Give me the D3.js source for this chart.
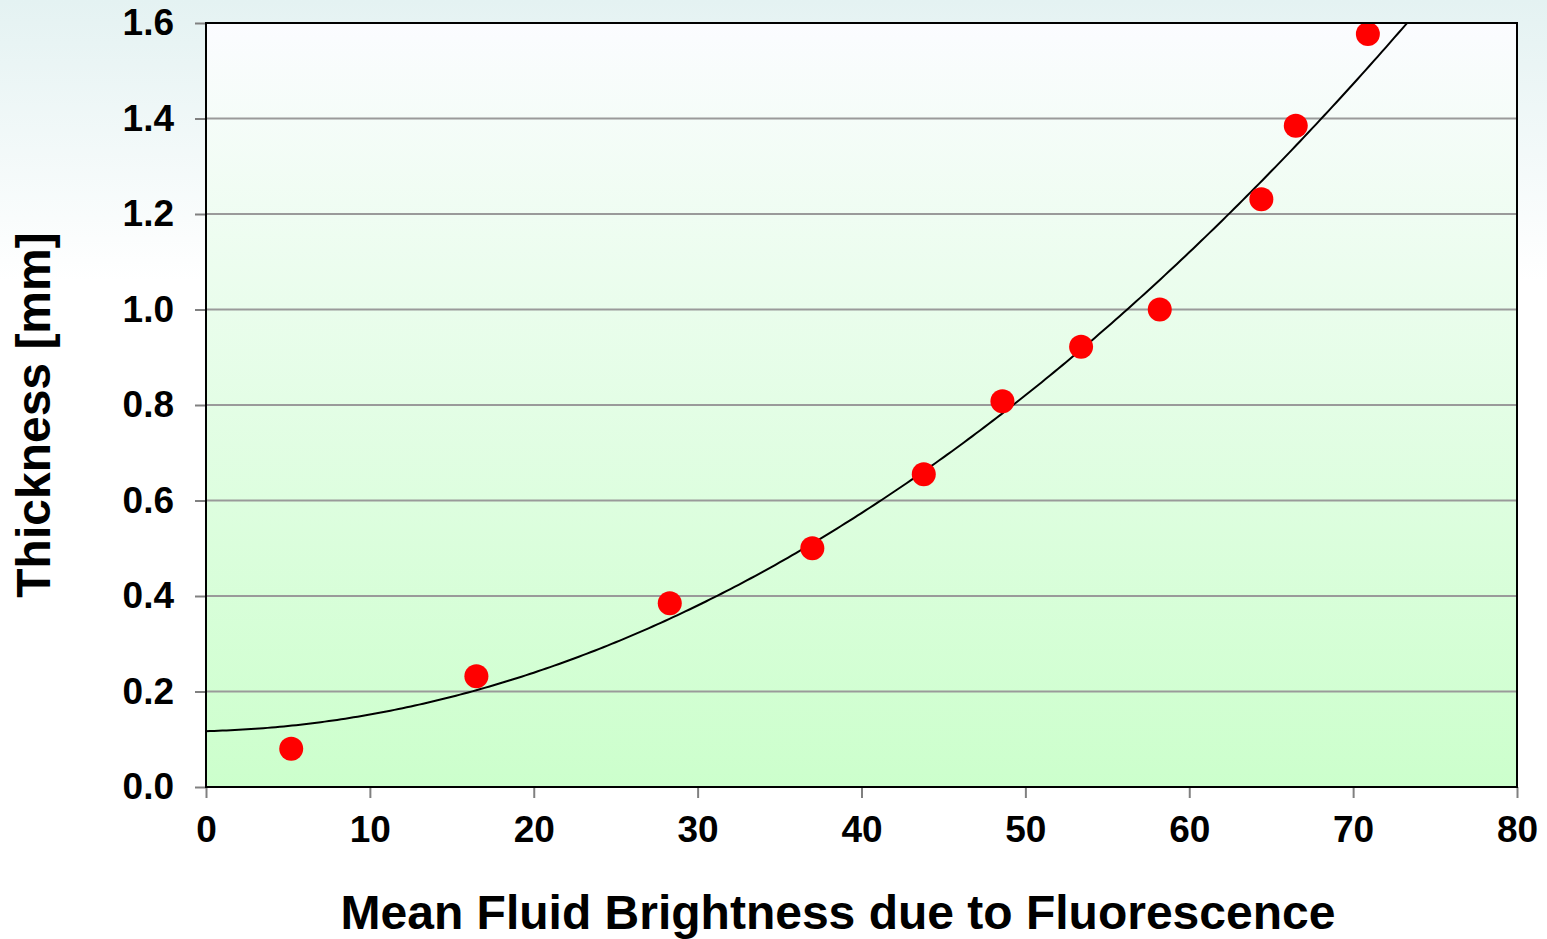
<!DOCTYPE html>
<html>
<head>
<meta charset="utf-8">
<script src="https://cdn.jsdelivr.net/npm/d3@7"></script>
<style>
  html, body { margin: 0; padding: 0; background: #fff; }
  svg { display: block; }
  text { font-family: "Liberation Sans", Arial, sans-serif; font-weight: bold; fill: #000; }
</style>
</head>
<body>
<svg id="chart" width="1547" height="939"></svg>
<script>
// Measured samples: mean fluid brightness vs. film thickness
const brightness = [5.2, 16.5, 28.3, 37.0, 43.8, 48.6, 53.4, 58.2, 64.4, 66.5, 70.9];
const thickness  = [0.08, 0.232, 0.385, 0.50, 0.655, 0.808, 0.922, 1.0, 1.231, 1.385, 1.577];

// Second-order polynomial trendline: t = a0 + a1*b + a2*b^2
const trendCoef = [0.117, 0.000825, 0.0002648];

const xTicks = [0, 10, 20, 30, 40, 50, 60, 70, 80];
const yTicks = [0.0, 0.2, 0.4, 0.6, 0.8, 1.0, 1.2, 1.4, 1.6];

const xTitle = "Mean Fluid Brightness due to Fluorescence";
const yTitle = "Thickness [mm]";

const W = 1547, H = 939;
const margin = { left: 206, top: 23, right: 30, bottom: 152 };
const pw = W - margin.left - margin.right;
const ph = H - margin.top - margin.bottom;

const svg = d3.select("#chart");
const defs = svg.append("defs");

const pageGrad = defs.append("linearGradient").attr("id", "pageBg")
  .attr("x1", 0).attr("y1", 0).attr("x2", 0).attr("y2", 1);
pageGrad.append("stop").attr("offset", "0%").attr("stop-color", "#e4f2f2");
pageGrad.append("stop").attr("offset", "30%").attr("stop-color", "#ffffff");
pageGrad.append("stop").attr("offset", "100%").attr("stop-color", "#ffffff");

const plotGrad = defs.append("linearGradient").attr("id", "plotBg")
  .attr("x1", 0).attr("y1", 0).attr("x2", 0).attr("y2", 1);
plotGrad.append("stop").attr("offset", "0%").attr("stop-color", "#fbfcff");
plotGrad.append("stop").attr("offset", "100%").attr("stop-color", "#ccffcc");

defs.append("clipPath").attr("id", "plotClip")
  .append("rect").attr("width", pw).attr("height", ph);

svg.append("rect").attr("width", W).attr("height", H).attr("fill", "url(#pageBg)");

const x = d3.scaleLinear().domain([0, 80]).range([0, pw]);
const y = d3.scaleLinear().domain([0, 1.6]).range([ph, 0]);

const g = svg.append("g").attr("transform", `translate(${margin.left},${margin.top})`);

g.append("rect").attr("width", pw).attr("height", ph).attr("fill", "url(#plotBg)");

// horizontal gridlines
g.append("g").selectAll("line").data(yTicks.slice(1, -1)).join("line")
  .attr("x1", 0).attr("x2", pw)
  .attr("y1", d => y(d)).attr("y2", d => y(d))
  .attr("stroke", "#9a9a9a").attr("stroke-width", 2);

// axes
const yAxis = g.append("g")
  .call(d3.axisLeft(y).tickValues(yTicks).tickFormat(d3.format(".1f")).tickSize(11).tickPadding(21));
const xAxis = g.append("g").attr("transform", `translate(0,${ph})`)
  .call(d3.axisBottom(x).tickValues(xTicks).tickFormat(d3.format("d")).tickSize(11).tickPadding(18));
[yAxis, xAxis].forEach(a => {
  a.select(".domain").remove();
  a.selectAll(".tick line").attr("stroke", "#808080").attr("stroke-width", 2);
  a.selectAll(".tick text").style("font-size", "37px").attr("font-family", null).attr("fill", "#000");
});

const curve = d3.range(0, 80.01, 0.25)
  .map(v => [v, trendCoef[0] + trendCoef[1] * v + trendCoef[2] * v * v]);

g.append("path").datum(curve)
  .attr("clip-path", "url(#plotClip)")
  .attr("fill", "none").attr("stroke", "#000").attr("stroke-width", 2)
  .attr("d", d3.line().x(d => x(d[0])).y(d => y(d[1])));

// data points
g.append("g").selectAll("circle").data(brightness.map((b, i) => [b, thickness[i]])).join("circle")
  .attr("cx", d => x(d[0])).attr("cy", d => y(d[1])).attr("r", 12)
  .attr("fill", "#ff0000");

// plot frame
g.append("rect").attr("width", pw).attr("height", ph)
  .attr("fill", "none").attr("stroke", "#000").attr("stroke-width", 2);

// axis titles
svg.append("text").attr("x", 838).attr("y", 929).attr("text-anchor", "middle")
  .style("font-size", "48px").text(xTitle);
svg.append("text").attr("transform", "translate(50,415) rotate(-90)").attr("text-anchor", "middle")
  .style("font-size", "48px").text(yTitle);
</script>
</body>
</html>
